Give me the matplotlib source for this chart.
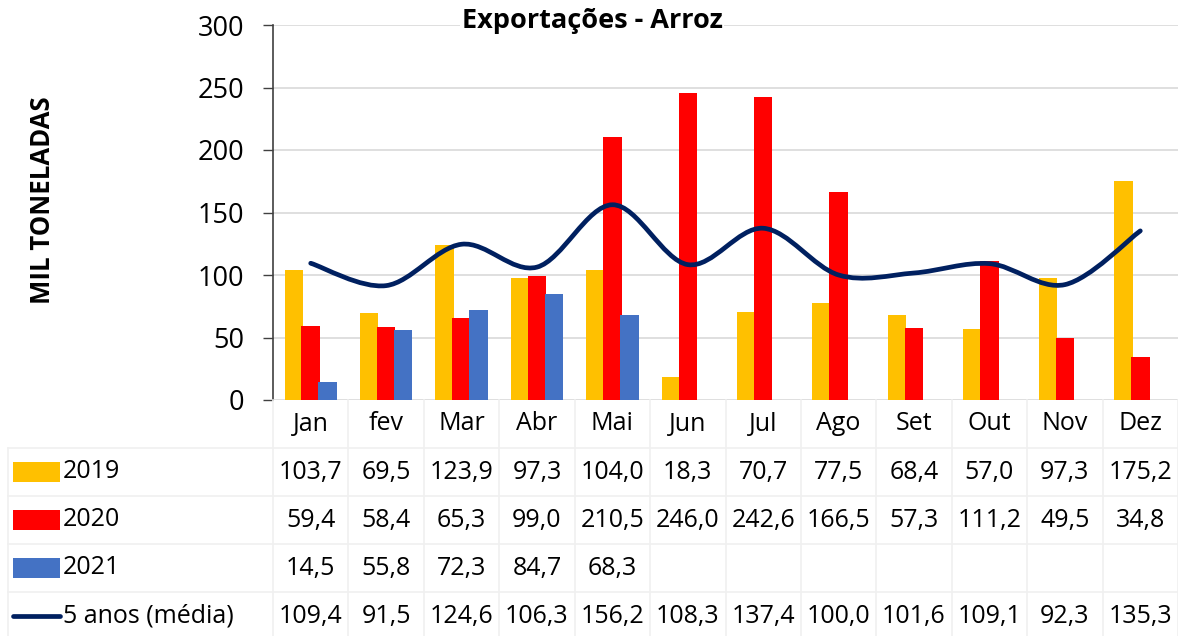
"""Exportações - Arroz: bars per year plus 5-year average, Excel-style data table."""

import matplotlib

matplotlib.use("Agg")
import matplotlib.pyplot as plt
import numpy as np
from matplotlib.patches import PathPatch, Rectangle
from matplotlib.path import Path
from matplotlib.lines import Line2D

months = ["Jan", "fev", "Mar", "Abr", "Mai", "Jun", "Jul", "Ago", "Set", "Out", "Nov", "Dez"]
y2019 = [103.7, 69.5, 123.9, 97.3, 104.0, 18.3, 70.7, 77.5, 68.4, 57.0, 97.3, 175.2]
y2020 = [59.4, 58.4, 65.3, 99.0, 210.5, 246.0, 242.6, 166.5, 57.3, 111.2, 49.5, 34.8]
y2021 = [14.5, 55.8, 72.3, 84.7, 68.3]
avg5 = [109.4, 91.5, 124.6, 106.3, 156.2, 108.3, 137.4, 100.0, 101.6, 109.1, 92.3, 135.3]

C2019 = "#FFC000"
C2020 = "#FF0000"
C2021 = "#4472C4"
CAVG = "#002060"
GRID = "#D9D9D9"
TGRID = "#F0F0F0"

plt.rcParams.update({"font.family": ["Open Sans", "DejaVu Sans"]})

W, H = 1178, 636
fig = plt.figure(figsize=(W / 100, H / 100), dpi=100)

# plot area in pixels
px_l, px_r, px_t, px_b = 273, 1178, 25, 400
ax = fig.add_axes([px_l / W, 1 - px_b / H, (px_r - px_l) / W, (px_b - px_t) / H])
xs = np.arange(len(months))
ax.set_xlim(-0.5, len(months) - 0.5)
ax.set_ylim(0, 300)

bw = 0.245
ax.bar(xs - 0.225, y2019, bw, color=C2019, zorder=2)
ax.bar(xs, y2020, bw, color=C2020, zorder=2)
ax.bar(xs[: len(y2021)] + 0.225, y2021, bw, color=C2021, zorder=2)


def smooth_path(x, y):
    # Catmull-Rom style cubic Bezier through every point (Excel "smoothed line")
    pts = np.column_stack([x, y]).astype(float)
    ext = np.vstack([pts[0], pts, pts[-1]])
    verts = [pts[0]]
    codes = [Path.MOVETO]
    for i in range(len(pts) - 1):
        p0, p1, p2, p3 = ext[i], ext[i + 1], ext[i + 2], ext[i + 3]
        verts += [p1 + (p2 - p0) / 6, p2 - (p3 - p1) / 6, p2]
        codes += [Path.CURVE4] * 3
    return Path(verts, codes)


ax.add_patch(
    PathPatch(smooth_path(xs, avg5), fill=False, edgecolor=CAVG, lw=3.4,
              capstyle="round", joinstyle="round", zorder=3)
)

ax.set_yticks(np.arange(0, 301, 50))
ax.yaxis.grid(True, color=GRID, lw=1.2, zorder=0)
ax.set_axisbelow(True)
ax.tick_params(axis="y", length=7, width=1, color="#404040", labelsize=19.5, pad=14)
ax.set_xticks([])
for s in ["top", "right", "bottom"]:
    ax.spines[s].set_visible(False)
ax.spines["left"].set_color("#404040")
ax.spines["left"].set_linewidth(1.2)

fig.text(43 / W, 1 - 200 / H, "MIL TONELADAS", rotation=90, ha="center", va="center",
         fontsize=18.5, fontweight="bold")
fig.text(592 / W, 1 - 21 / H, "Exportações - Arroz", ha="center", va="center",
         fontsize=19.5, fontweight="bold",
         bbox=dict(facecolor="white", edgecolor="none", pad=1))

# data table below the plot, sharing the category spacing of the plot
unit = (px_r - px_l) / len(months)
tl = 8
tx0 = -0.5 - (px_l - tl) / unit
row_h = 48
tab = fig.add_axes([tl / W, 0, (W - tl) / W, (H - px_b) / H])
tab.set_xlim(tx0, len(months) - 0.5)
tab.set_ylim((H - px_b) / row_h, 0)
tab.axis("off")

nrows = 5
for r in range(1, nrows + 1):
    tab.plot([tx0, len(months) - 0.5], [r, r], color=TGRID, lw=1.2, clip_on=False)
for k in range(len(months) + 1):
    tab.plot([k - 0.5, k - 0.5], [0, nrows], color=TGRID, lw=1.2, clip_on=False)
tab.plot([tx0, tx0], [1, nrows], color=TGRID, lw=1.2, clip_on=False)

fs = 18
for i, m in enumerate(months):
    tab.text(i, 0.5, m, ha="center", va="center", fontsize=fs)

rows = [("2019", y2019, C2019), ("2020", y2020, C2020), ("2021", y2021, C2021),
        ("5 anos (média)", avg5, CAVG)]
key_x0 = tx0 + 5 / unit
key_w = 47 / unit
lab_x = tx0 + 55 / unit
for r, (name, vals, col) in enumerate(rows, start=1):
    yc = r + 0.5
    if name.startswith("5"):
        tab.add_line(Line2D([key_x0, key_x0 + key_w], [yc, yc], color=col, lw=3.4,
                            solid_capstyle="round"))
    else:
        tab.add_patch(Rectangle((key_x0, yc - 10 / row_h), key_w, 20 / row_h,
                                color=col, lw=0))
    tab.text(lab_x, yc, name, ha="left", va="center", fontsize=fs)
    for i, v in enumerate(vals):
        tab.text(i, yc, f"{v:.1f}".replace(".", ","), ha="center", va="center",
                 fontsize=fs, clip_on=False)

fig.savefig("out.png", dpi=100)
